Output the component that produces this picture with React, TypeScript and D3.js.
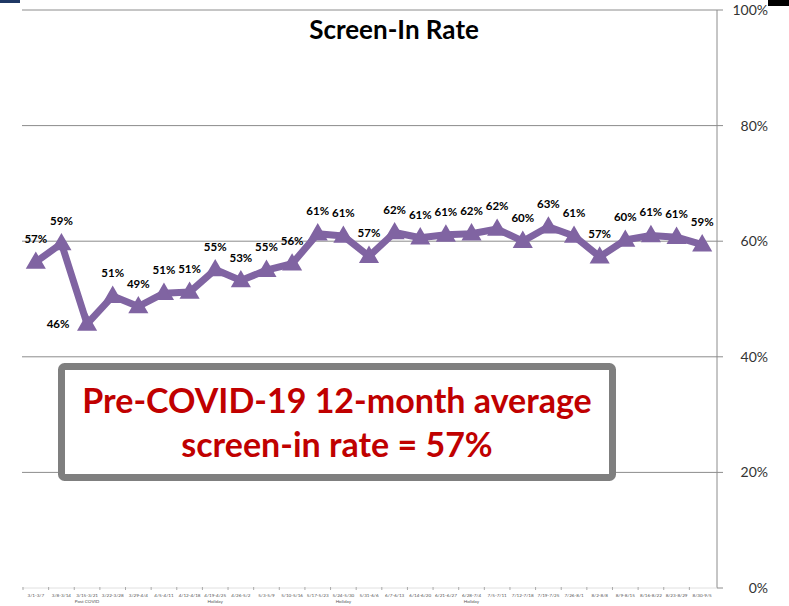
import React from 'react';
import * as d3 from 'd3';

// weekly buckets (x axis)
const weeks = [
  '3/1-3/7', '3/8-3/14', '3/15-3/21', '3/22-3/28', '3/29-4/4', '4/5-4/11', '4/12-4/18',
  '4/19-4/25', '4/26-5/2', '5/3-5/9', '5/10-5/16', '5/17-5/23', '5/24-5/30', '5/31-6/6',
  '6/7-6/13', '6/14-6/20', '6/21-6/27', '6/28-7/4', '7/5-7/11', '7/12-7/18', '7/19-7/25',
  '7/26-8/1', '8/2-8/8', '8/9-8/15', '8/16-8/22', '8/23-8/29', '8/30-9/5',
];
const weekNotes = [
  '', '', 'Post COVID', '', '', '', '', 'Holiday', '', '', '', '', 'Holiday', '',
  '', '', '', 'Holiday', '', '', '', '', '', '', '', '', '',
];
// screen-in rate per week
const rate = [
  0.564, 0.596, 0.457, 0.505, 0.487, 0.510, 0.512, 0.551, 0.532, 0.550, 0.561, 0.613, 0.609,
  0.574, 0.615, 0.606, 0.611, 0.613, 0.621, 0.600, 0.625, 0.609, 0.573, 0.602, 0.610, 0.607, 0.594,
];
const rateLabels = [
  '57%', '59%', '46%', '51%', '49%', '51%', '51%', '55%', '53%', '55%', '56%', '61%', '61%',
  '57%', '62%', '61%', '61%', '62%', '62%', '60%', '63%', '61%', '57%', '60%', '61%', '61%', '59%',
];
const yTicks = [0, 0.2, 0.4, 0.6, 0.8, 1];

const W = 789;
const H = 606;
const plotL = 22;
const plotR = 717;
const purple = '#8064A2';
const font = 'Lato, "Open Sans", sans-serif';

export default function App() {
  const x = d3.scaleBand<string>().domain(weeks).range([23, 715]);
  const y = d3.scaleLinear().domain([0, 1]).range([588, 10]);
  const cx = (i: number) => (x(weeks[i]) as number) + x.bandwidth() / 2;

  const line = d3.line<number>()
    .x((_, i) => cx(i))
    .y((d) => y(d));
  const tri = d3.symbol().type(d3.symbolTriangle).size(120)();

  return (
    <div style={{ position: 'absolute', left: 0, top: 0 }}>
      <svg width={W} height={H} style={{ display: 'block', background: '#fff' }}>
        {/* slide leftovers in the corners */}
        <rect x={0} y={0} width={20} height={3} fill="#1F3864" />
        <rect x={768} y={0} width={21} height={6} fill="#000" />

        {/* gridlines + right axis */}
        {yTicks.map((t) => (
          <g key={t}>
            {t > 0 && (
              <line x1={plotL} x2={plotR} y1={y(t)} y2={y(t)} stroke="#8c8c8c" strokeWidth={1} />
            )}
            <line x1={plotR} x2={plotR + 6} y1={y(t)} y2={y(t)} stroke="#8c8c8c" strokeWidth={1} />
            <text
              x={768}
              y={y(t)}
              dy="0.35em"
              textAnchor="end"
              fontFamily={font}
              fontSize={14}
              fill="#333"
            >
              {Math.round(t * 100) + '%'}
            </text>
          </g>
        ))}
        <line x1={plotR} x2={plotR} y1={y(1)} y2={y(0)} stroke="#8c8c8c" strokeWidth={1} />

        {/* bottom axis */}
        <line x1={plotL} x2={plotR} y1={y(0)} y2={y(0)} stroke="#e0e0e0" strokeWidth={1} />
        {weeks.map((w, i) => (
          <g key={w}>
            <line
              x1={x(w) as number}
              x2={x(w) as number}
              y1={y(0) - 1}
              y2={y(0) + 2}
              stroke="#aaa"
            />
            <text x={cx(i)} y={597} textAnchor="middle" fontFamily={font} fontSize={4.6} fill="#555">
              {w}
            </text>
            {weekNotes[i] && (
              <text x={cx(i)} y={603} textAnchor="middle" fontFamily={font} fontSize={4.6} fill="#555">
                {weekNotes[i]}
              </text>
            )}
          </g>
        ))}

        {/* title */}
        <text
          x={394}
          y={39}
          textAnchor="middle"
          fontFamily={font}
          fontWeight="bold"
          fontSize={26}
          fill="#000"
        >
          Screen-In Rate
        </text>

        {/* series */}
        <path
          d={line(rate) as string}
          fill="none"
          stroke={purple}
          strokeWidth={7}
          strokeLinejoin="round"
        />
        {rate.map((v, i) => (
          <path
            key={i}
            d={tri as string}
            transform={`translate(${cx(i)},${y(v) + 1})`}
            fill={purple}
            stroke={purple}
            strokeWidth={2}
          />
        ))}
        {rate.map((v, i) => {
          const left = rate[i] < 0.47;
          return (
            <text
              key={'l' + i}
              x={left ? cx(i) - 29 : cx(i)}
              y={left ? y(v) : y(v) - 19}
              dy={left ? '0.35em' : 0}
              textAnchor="middle"
              fontFamily={font}
              fontWeight="bold"
              fontSize={11.5}
              fill="#000"
            >
              {rateLabels[i]}
            </text>
          );
        })}

        {/* callout box */}
        <rect x={61.5} y={366.5} width={551} height={111} rx={3} fill="#fff" stroke="#7f7f7f" strokeWidth={7} />
        <text
          x={337}
          y={413}
          textAnchor="middle"
          fontFamily={font}
          fontWeight="bold"
          fontSize={34}
          fill="#C00000"
        >
          Pre-COVID-19 12-month average
        </text>
        <text
          x={337}
          y={457}
          textAnchor="middle"
          fontFamily={font}
          fontWeight="bold"
          fontSize={34}
          fill="#C00000"
        >
          screen-in rate = 57%
        </text>
      </svg>
    </div>
  );
}
